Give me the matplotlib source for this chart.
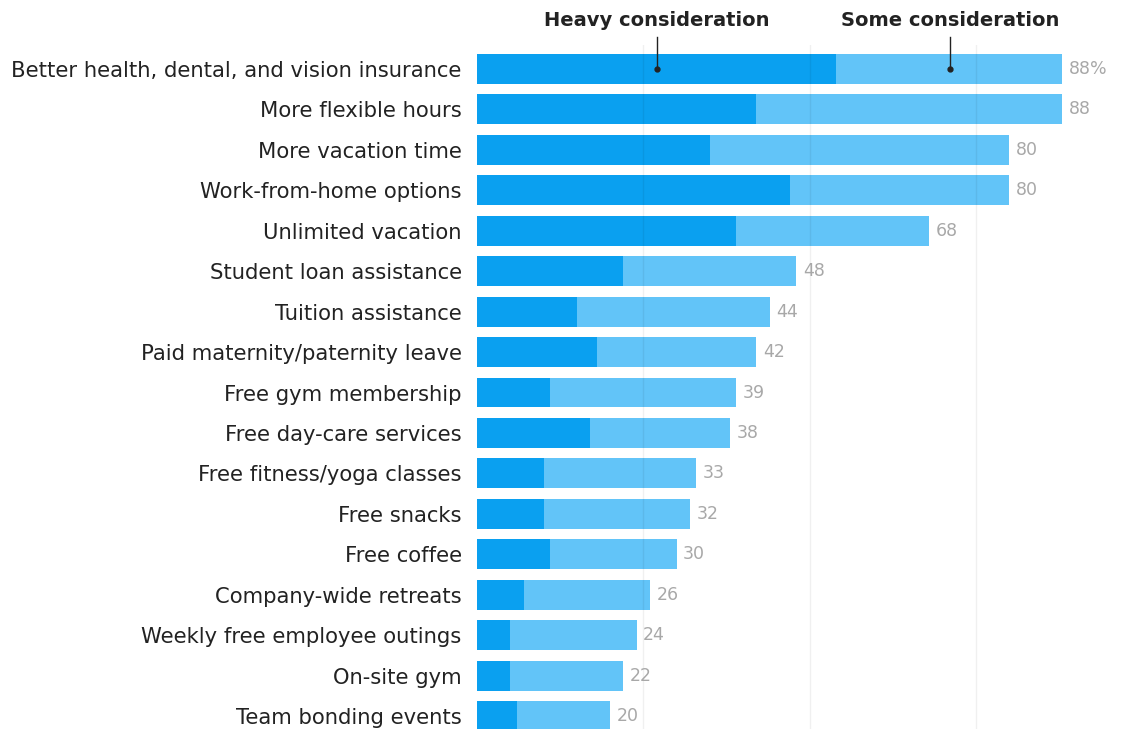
import matplotlib
matplotlib.use("Agg")
import matplotlib.pyplot as plt

categories = [
    "Better health, dental, and vision insurance",
    "More flexible hours",
    "More vacation time",
    "Work-from-home options",
    "Unlimited vacation",
    "Student loan assistance",
    "Tuition assistance",
    "Paid maternity/paternity leave",
    "Free gym membership",
    "Free day-care services",
    "Free fitness/yoga classes",
    "Free snacks",
    "Free coffee",
    "Company-wide retreats",
    "Weekly free employee outings",
    "On-site gym",
    "Team bonding events",
]
totals = [88, 88, 80, 80, 68, 48, 44, 42, 39, 38, 33, 32, 30, 26, 24, 22, 20]
heavy = [54, 42, 35, 47, 39, 22, 15, 18, 11, 17, 10, 10, 11, 7, 5, 5, 6]
some = [t - h for t, h in zip(totals, heavy)]
value_labels = [f"{totals[0]}%"] + [str(t) for t in totals[1:]]
grid_ticks = [25, 50, 75]

HEAVY_C = "#0aa0f0"
SOME_C = "#62c4f8"

W, H = 1136, 729
fig = plt.figure(figsize=(W / 100, H / 100), dpi=100)
plt.rcParams['font.family'] = ['DejaVu Sans']

px_per_unit = 6.65
xmax = 98
x0_px = 477
top_px = 45
bottom_px = 729
spacing = 40.44
first_center = 69
ax = fig.add_axes([x0_px / W, 1 - bottom_px / H, xmax * px_per_unit / W,
                   (bottom_px - top_px) / H])

y = list(range(len(categories)))
ax.barh(y, heavy, height=0.74, color=HEAVY_C, zorder=2)
ax.barh(y, some, left=heavy, height=0.74, color=SOME_C, zorder=2)
for g in grid_ticks:
    ax.axvline(g, color=(0, 0, 0, 0.06), lw=1, zorder=3)

ytop = -(first_center - top_px) / spacing
ybot = (len(categories) - 1) + (bottom_px - (first_center + spacing * (len(categories) - 1))) / spacing
ax.set_ylim(ybot, ytop)
ax.set_xlim(0, xmax)

for i, (t, lab) in enumerate(zip(totals, value_labels)):
    ax.text(t + 1.0, i, lab, va="center", ha="left", fontsize=12.5,
            color="#a8a8a8")

ax.set_yticks(y)
ax.set_yticklabels(categories, fontsize=15.2, color="#222222")
ax.tick_params(axis="y", length=0, pad=11)
ax.set_xticks([])
for s in ax.spines.values():
    s.set_visible(False)

# Header annotations
hx = 27.1
sx = 71.1
ax.text(hx, -1.2, "Heavy consideration", ha="center", va="center",
        fontsize=14, fontweight="bold", color="#222222", clip_on=False)
ax.text(sx, -1.2, "Some consideration", ha="center", va="center",
        fontsize=14, fontweight="bold", color="#222222", clip_on=False)
for xx in (hx, sx):
    ax.plot([xx, xx], [-0.8, 0.0], color="#222222", lw=1, zorder=4, clip_on=False)
    ax.plot([xx], [0.0], marker="o", ms=3.5, color="#222222", zorder=4, clip_on=False)

fig.savefig("out.png", dpi=100, facecolor="white")
